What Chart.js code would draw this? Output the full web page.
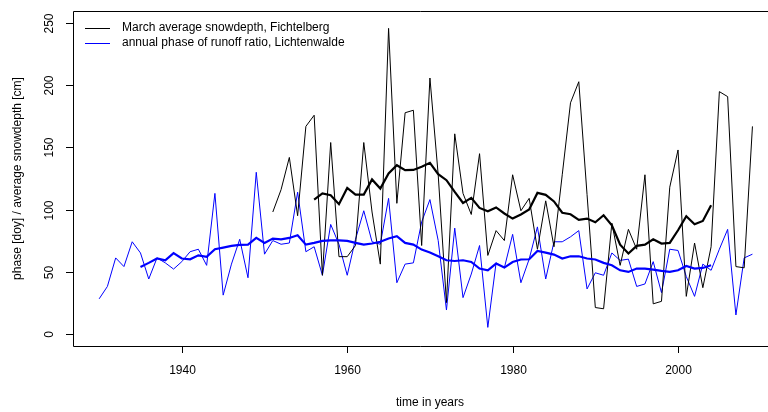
<!DOCTYPE html>
<html>
<head>
<meta charset="utf-8">
<script src="https://cdn.jsdelivr.net/npm/chart.js@4/dist/chart.umd.min.js"></script>
<style>
  html, body { margin: 0; padding: 0; background: #fff; }
  #wrap { width: 768px; height: 412px; }
</style>
</head>
<body>
<div id="wrap"><canvas id="chart" width="768" height="412"></canvas></div>
<script>
const years = [
  1930, 1931, 1932, 1933, 1934, 1935, 1936, 1937, 1938, 1939,
  1940, 1941, 1942, 1943, 1944, 1945, 1946, 1947, 1948, 1949,
  1950, 1951, 1952, 1953, 1954, 1955, 1956, 1957, 1958, 1959,
  1960, 1961, 1962, 1963, 1964, 1965, 1966, 1967, 1968, 1969,
  1970, 1971, 1972, 1973, 1974, 1975, 1976, 1977, 1978, 1979,
  1980, 1981, 1982, 1983, 1984, 1985, 1986, 1987, 1988, 1989,
  1990, 1991, 1992, 1993, 1994, 1995, 1996, 1997, 1998, 1999,
  2000, 2001, 2002, 2003, 2004, 2005, 2006, 2007, 2008, 2009
];

// March average snowdepth, Fichtelberg [cm]
const snowDepth = [
  null, null, null, null, null, null, null, null, null, null,
  null, null, null, null, null, null, null, null, null, null,
  null, 98, 116, 142, 95, 167, 176, 47, 154, 62,
  62, 71, 154, 98, 56, 246, 105, 178, 180, 71,
  206, 128, 25, 161, 113, 96, 145, 63, 83, 75,
  128, 99, 109, 68, 107, 70, 128, 186, 203, 112,
  21, 20, 89, 55, 84, 68, 128, 24, 26, 118,
  148, 30, 73, 37, 70, 195, 191, 54, 53, 167
];

// smoothed snowdepth (thick black)
const snowMean = [
  null, null, null, null, null, null, null, null, null, null,
  null, null, null, null, null, null, null, null, null, null,
  null, null, null, null, null, null, 108, 113, 111.5, 104.3,
  117.4, 112, 112, 124.2, 116.9, 129, 135.7, 131.7, 131.9, 134.4,
  137.6, 128.5, 123.6, 114.2, 105.3, 109.4, 101.3, 98.6, 101.7, 96.8,
  92.7, 96, 100, 113.4, 111.8, 106.5, 97.4, 96.2, 91.6, 92.7,
  89.7, 95.4, 87.3, 71.6, 64.5, 70.7, 71.7, 76, 72.6, 73.1,
  83.3, 94.6, 88.1, 90.8, 103.5, null, null, null, null, null
];

// annual phase of runoff ratio, Lichtenwalde [doy]
const runoffPhase = [
  28, 38, 61, 54, 74, 65, 44, 61, 57, 52,
  58, 66, 68, 55, 113, 31, 56, 76, 45, 130,
  64, 75, 72, 73, 114, 66, 70, 47, 88, 72,
  47, 76, 99, 74, 72, 109, 41, 56, 57, 90,
  108, 75, 19, 85, 29, 48, 71, 5, 57, 53,
  80, 41, 60, 86, 44, 74, 74, 78, 83, 36,
  49, 47, 65, 59, 60, 38, 40, 58, 33, 68,
  67, 46, 30, 56, 51, 68, 84, 15, 61, 64
];

// smoothed runoff phase (thick blue)
const runoffMean = [
  null, null, null, null, null, 53.7, 57, 60.5, 59.1, 64.8,
  60.5, 59.9, 63.1, 61.8, 68, 69.3, 70.7, 71.5, 71.7, 77.1,
  73.1, 76.6, 76, 77.1, 79.3, 71.7, 73.1, 74.7, 75.2, 75.2,
  74.7, 73.1, 71.7, 72.6, 74, 76.6, 78.5, 73.1, 71.7, 67.7,
  65.3, 62.3, 59.1, 58.5, 59.1, 57.7, 52.4, 51, 56.4, 53.2,
  57.7, 59.7, 59.9, 66.6, 65.3, 63.7, 60.5, 62.3, 62.3, 60.5,
  59.7, 57, 55.1, 51, 49.7, 52.4, 52.4, 51.6, 50.5, 49.7,
  51, 54.5, 52.4, 52.9, 55.1, null, null, null, null, null
];

const xTicks = [1940, 1960, 1980, 2000];
const yTicks = [0, 50, 100, 150, 200, 250];
const FONT = '12px "Liberation Sans", Arial, sans-serif';

// R-style box, axes, titles and legend
const rAxes = {
  id: "rAxes",
  afterDraw(chart) {
    const ctx = chart.ctx;
    const a = chart.chartArea;
    const xs = chart.scales.x;
    const ys = chart.scales.y;
    ctx.save();
    ctx.strokeStyle = "#000";
    ctx.lineWidth = 1;
    ctx.fillStyle = "#000";
    ctx.font = FONT;

    // box (right side is off the canvas)
    ctx.beginPath();
    ctx.moveTo(768, Math.round(a.top) + 0.5);
    ctx.lineTo(Math.round(a.left) + 0.5, Math.round(a.top) + 0.5);
    ctx.lineTo(Math.round(a.left) + 0.5, Math.round(a.bottom) + 0.5);
    ctx.lineTo(768, Math.round(a.bottom) + 0.5);
    ctx.stroke();

    // x axis
    ctx.textAlign = "center";
    ctx.textBaseline = "middle";
    xTicks.forEach((t) => {
      const px = Math.round(xs.getPixelForValue(t)) + 0.5;
      ctx.beginPath();
      ctx.moveTo(px, Math.round(a.bottom));
      ctx.lineTo(px, Math.round(a.bottom) + 7);
      ctx.stroke();
      ctx.fillText(String(t), px, 371);
    });
    ctx.fillText("time in years", 430, 403);

    // y axis
    yTicks.forEach((t) => {
      const py = Math.round(ys.getPixelForValue(t)) + 0.5;
      ctx.beginPath();
      ctx.moveTo(Math.round(a.left), py);
      ctx.lineTo(Math.round(a.left) - 7, py);
      ctx.stroke();
      ctx.save();
      ctx.translate(50, py);
      ctx.rotate(-Math.PI / 2);
      ctx.fillText(String(t), 0, 0);
      ctx.restore();
    });
    ctx.save();
    ctx.translate(18, (a.top + a.bottom) / 2);
    ctx.rotate(-Math.PI / 2);
    ctx.fillText("phase [doy] / average snowdepth [cm]", 0, 0);
    ctx.restore();

    // legend
    ctx.textAlign = "left";
    const items = chart.data.datasets.filter((d) => d.inLegend);
    items.forEach((d, i) => {
      const y = 28 + i * 15;
      ctx.strokeStyle = d.borderColor;
      ctx.beginPath();
      ctx.moveTo(85, y + 0.5);
      ctx.lineTo(110, y + 0.5);
      ctx.stroke();
      ctx.fillStyle = "#000";
      ctx.fillText(d.label, 122, y);
    });
    ctx.restore();
  },
};

new Chart(document.getElementById("chart"), {
  type: "line",
  data: {
    labels: years,
    datasets: [
      {
        label: "runoff mean",
        data: runoffMean,
        borderColor: "#0000ff",
        borderWidth: 2.2,
      },
      {
        label: "snow mean",
        data: snowMean,
        borderColor: "#000000",
        borderWidth: 2.2,
      },
      {
        label: "March average snowdepth, Fichtelberg",
        data: snowDepth,
        borderColor: "#000000",
        borderWidth: 1,
        inLegend: true,
      },
      {
        label: "annual phase of runoff ratio, Lichtenwalde",
        data: runoffPhase,
        borderColor: "#0000ff",
        borderWidth: 1,
        inLegend: true,
      },
    ],
  },
  options: {
    responsive: false,
    animation: false,
    layout: { padding: { left: 73, top: 11, right: 0, bottom: 66 } },
    plugins: { legend: { display: false }, tooltip: { enabled: false } },
    elements: { point: { radius: 0 }, line: { tension: 0, fill: false } },
    scales: {
      x: { type: "linear", min: 1926.84, max: 2010.88, display: false },
      y: { min: -10, max: 260, display: false },
    },
  },
  plugins: [rAxes],
});
</script>
</body>
</html>
